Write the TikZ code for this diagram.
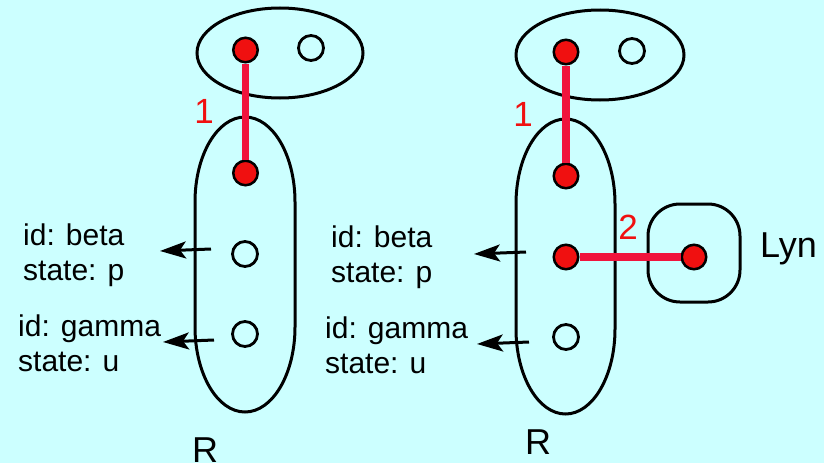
\documentclass[tikz,border=0pt]{standalone}
\usepackage{fontspec}
\setmainfont{Liberation Sans}
\usetikzlibrary{arrows.meta}

\definecolor{fundo}{RGB}{204,255,255}
\definecolor{vermelho}{RGB}{240,16,16}
\definecolor{ligacao}{RGB}{240,20,60}

\tikzset{
  contorno/.style={line width=3pt},
  cheio/.style={circle,draw=black,line width=2.5pt,fill=vermelho,minimum size=24.5pt,inner sep=0pt},
  vazio/.style={circle,draw=black,line width=2.8pt,minimum size=25pt,inner sep=0pt},
  elo/.style={ligacao,line width=7.5pt},
  seta/.style={line width=3pt,-{Stealth[length=26pt,width=17pt,inset=6pt]}},
  texto/.style={inner sep=0pt,align=left,font=\fontsize{30}{35}\selectfont},
  nome/.style={inner sep=0pt,font=\fontsize{36}{40}\selectfont},
  numero/.style={inner sep=0pt,text=vermelho,font=\fontsize{35}{40}\selectfont}
}

\begin{document}
\begin{tikzpicture}[x=1pt,y=-1pt]
\useasboundingbox (0,0) rectangle (835,463);
\fill[fundo] (0,0) rectangle (824,463);

% conjuntos da esquerda
\draw[contorno] (280,53) ellipse [x radius=83, y radius=45];
\draw[contorno] (195,202) arc[start angle=180,end angle=360,x radius=50,y radius=85]
  -- (295,327) arc[start angle=0,end angle=180,x radius=50,y radius=85] -- cycle;

% conjuntos da direita
\draw[contorno] (600,55) ellipse [x radius=84, y radius=45];
\draw[contorno] (516,204) arc[start angle=180,end angle=360,x radius=49.5,y radius=85]
  -- (615,329) arc[start angle=0,end angle=180,x radius=49.5,y radius=85] -- cycle;
\draw[contorno,rounded corners=32pt] (648,204) rectangle (740,302);

% pontos da esquerda
\node[cheio] (ea1) at (245.5,50) {};
\node[vazio] (ea2) at (311,48) {};
\node[cheio] (er1) at (245.5,173) {};
\node[vazio] (er2) at (245,254) {};
\node[vazio] (er3) at (245,334) {};

% pontos da direita
\node[cheio] (da1) at (566,52) {};
\node[vazio] (da2) at (632,51) {};
\node[cheio] (dr1) at (566,176) {};
\node[cheio] (dr2) at (566,257) {};
\node[vazio] (dr3) at (566,337) {};
\node[cheio] (lyn) at (694,257) {};

% ligacoes
\draw[elo] (ea1) -- (er1);
\draw[elo] (da1) -- (dr1);
\draw[elo] (dr2) -- (lyn);
\node[numero] (n1e) at (204,111) {1};
\node[numero] (n1d) at (523,114) {1};
\node[numero] (n2d) at (628,227) {2};

% setas
\coordinate (se1) at (211,249);
\coordinate (fe1) at (160,251);
\coordinate (se2) at (214,340);
\coordinate (fe2) at (163,342);
\coordinate (sd1) at (526,252);
\coordinate (fd1) at (474,254);
\coordinate (sd2) at (529,342);
\coordinate (fd2) at (477,344);
\draw[seta] (se1) -- (fe1);
\draw[seta] (se2) -- (fe2);
\draw[seta] (sd1) -- (fd1);
\draw[seta] (sd2) -- (fd2);

% textos (base = ultima linha)
\node[texto,anchor=base west] (te1) at (23,280) {id: beta\\state: p};
\node[texto,anchor=base west] (te2) at (18,371) {id: gamma\\state: u};
\node[texto,anchor=base west] (td1) at (331,282) {id: beta\\state: p};
\node[texto,anchor=base west] (td2) at (325,373) {id: gamma\\state: u};
\node[nome,anchor=base west] (re) at (192,462) {R};
\node[nome,anchor=base west] (rd) at (525,454) {R};
\node[nome,anchor=base west] (tl) at (760,257) {Lyn};

\end{tikzpicture}
\end{document}
